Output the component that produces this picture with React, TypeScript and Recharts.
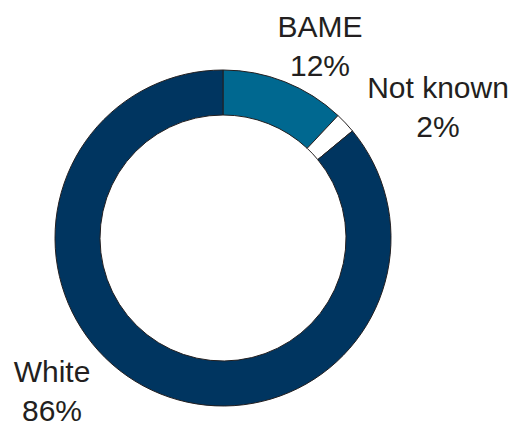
import React from 'react';
import { PieChart, Pie, Cell } from 'recharts';

const categories = ['BAME', 'Not known', 'White'];
const shares = [12, 2, 86];
const colors = ['#006890', '#ffffff', '#003560'];

// label anchor offsets from the pie centre (x, y of first line baseline)
const labelOffsets = [
  [97, -201],
  [215, -140],
  [-171, 144],
];

const data = categories.map((name, i) => ({ name, value: shares[i] }));

const renderLabel = (props: any) => {
  const { cx, cy, index } = props;
  const [dx, dy] = labelOffsets[index];
  const x = cx + dx;
  const y = cy + dy;
  return (
    <text
      x={x}
      y={y}
      textAnchor="middle"
      fill="#231f20"
      fontSize={30}
      fontFamily="'Liberation Sans', Arial, sans-serif"
    >
      <tspan x={x} dy={0}>{data[index].name}</tspan>
      <tspan x={x} dy={39}>{`${data[index].value}%`}</tspan>
    </text>
  );
};

export default function App() {
  return (
    <div style={{ position: 'absolute', left: 0, top: 0, width: 515, height: 423, background: '#fff' }}>
      <PieChart width={515} height={423} margin={{ top: 0, right: 0, bottom: 0, left: 0 }}>
        <Pie
          data={data}
          dataKey="value"
          nameKey="name"
          cx={223}
          cy={238}
          innerRadius={123}
          outerRadius={168}
          startAngle={90}
          endAngle={-270}
          stroke="#231f20"
          strokeWidth={1}
          label={renderLabel}
          labelLine={false}
          isAnimationActive={false}
        >
          {data.map((d, i) => (
            <Cell key={d.name} fill={colors[i]} />
          ))}
        </Pie>
      </PieChart>
    </div>
  );
}
